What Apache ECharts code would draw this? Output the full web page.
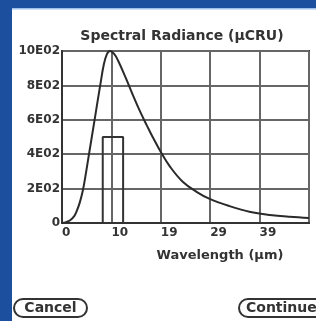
<!DOCTYPE html>
<html>
<head>
<meta charset="utf-8">
<script src="https://cdn.jsdelivr.net/npm/echarts@6/dist/echarts.min.js"></script>
<style>
html,body{margin:0;padding:0;background:#fff;}
#c{width:316px;height:321px;}
</style>
</head>
<body>
<div id="c"></div>
<script>
// Data
var titleText = 'Spectral Radiance (\u00b5CRU)';
var xAxisName = 'Wavelength (\u00b5m)';
var wavelength = [0, 0.8, 1.6, 2.4, 2.9, 3.5, 4.1, 4.7, 5.3, 6.1, 6.7, 7.5, 8.2, 8.8, 9.4, 10.2, 11.0, 12.5, 13.9, 15.3, 16.7, 17.8, 19.4, 21.2, 23.7, 26.5, 29.0, 32.9, 36.8, 40.8, 44.7, 48.5];
var radiance   = [0, 5, 16, 40, 70, 120, 190, 290, 400, 545, 655, 800, 920, 980, 1000, 985, 945, 845, 745, 650, 565, 500, 413, 328, 240, 180, 140, 98, 66, 47, 36, 29];
var bandX = [8, 8, 12, 12];
var bandY = [0, 500, 500, 0];
var xMax = 48.5, xStep = 9.7;
var yMax = 1000, yStep = 200;
var buttonLabels = ['Cancel', 'Continue'];

var curve = wavelength.map(function (w, i) { return [w, radiance[i]]; });
var band = bandX.map(function (w, i) { return [w, bandY[i]]; });
var FONT = 'DejaVu Sans';
var blue = '#1d4f9f';

var chart = echarts.init(document.getElementById('c'), null, {renderer: 'canvas'});
chart.setOption({
  backgroundColor: '#ffffff',
  animation: false,
  title: {
    text: titleText,
    left: 182, top: 29, textAlign: 'center', padding: 0,
    textStyle: {fontFamily: FONT, fontSize: 14, fontWeight: 'bold', color: '#333'}
  },
  grid: {left: 62, top: 51, right: 7, bottom: 98, show: true, borderColor: '#333', borderWidth: 2},
  xAxis: {
    type: 'value', min: 0, max: xMax, interval: xStep,
    name: xAxisName, nameLocation: 'middle', nameGap: 26,
    nameTextStyle: {fontFamily: FONT, fontSize: 13, fontWeight: 'bold', color: '#333', padding: [0, 0, 0, 69]},
    axisLine: {show: true, lineStyle: {color: '#333', width: 2}},
    axisTick: {show: false},
    splitLine: {show: true, lineStyle: {color: '#666', width: 2}},
    axisLabel: {
      fontFamily: FONT, fontSize: 12, fontWeight: 'bold', color: '#333', margin: 4,
      align: 'left', showMaxLabel: false,
      formatter: function (v) { return String(Math.round(v)); }
    }
  },
  yAxis: {
    type: 'value', min: 0, max: yMax, interval: yStep,
    axisLine: {show: true, lineStyle: {color: '#333', width: 2}},
    axisTick: {show: false},
    splitLine: {show: true, lineStyle: {color: '#666', width: 2}},
    axisLabel: {
      fontFamily: FONT, fontSize: 12, fontWeight: 'bold', color: '#333', margin: 2,
      formatter: function (v) { return v === 0 ? '0' : (v / 100) + 'E02'; }
    }
  },
  series: [
    {
      type: 'line', data: curve, smooth: 0.4, showSymbol: false, symbol: 'none',
      lineStyle: {color: '#2a2a2a', width: 2}, z: 3
    },
    {
      type: 'line', data: band, showSymbol: false, symbol: 'none',
      lineStyle: {color: '#333', width: 2}, z: 2
    }
  ],
  graphic: [
    {type: 'rect', shape: {x: 0, y: 0, width: 316, height: 8}, style: {fill: blue}, silent: true},
    {type: 'rect', shape: {x: 12, y: 8, width: 304, height: 1.5}, style: {fill: '#9cc0ea'}, silent: true},
    {type: 'rect', shape: {x: 0, y: 0, width: 12, height: 321}, style: {fill: blue}, silent: true},
    {type: 'rect', shape: {x: 14, y: 299, width: 73, height: 18, r: 9}, style: {fill: '#fff', stroke: '#333', lineWidth: 2}, silent: true},
    {type: 'text', x: 50.5, y: 308, style: {text: buttonLabels[0], fontFamily: FONT, fontSize: 14, fontWeight: 'bold', fill: '#333', align: 'center', verticalAlign: 'middle'}, silent: true},
    {type: 'rect', shape: {x: 239, y: 299, width: 100, height: 18, r: 9}, style: {fill: '#fff', stroke: '#333', lineWidth: 2}, silent: true},
    {type: 'text', x: 246, y: 308, style: {text: buttonLabels[1], fontFamily: FONT, fontSize: 14, fontWeight: 'bold', fill: '#333', align: 'left', verticalAlign: 'middle'}, silent: true}
  ]
});
</script>
</body>
</html>
